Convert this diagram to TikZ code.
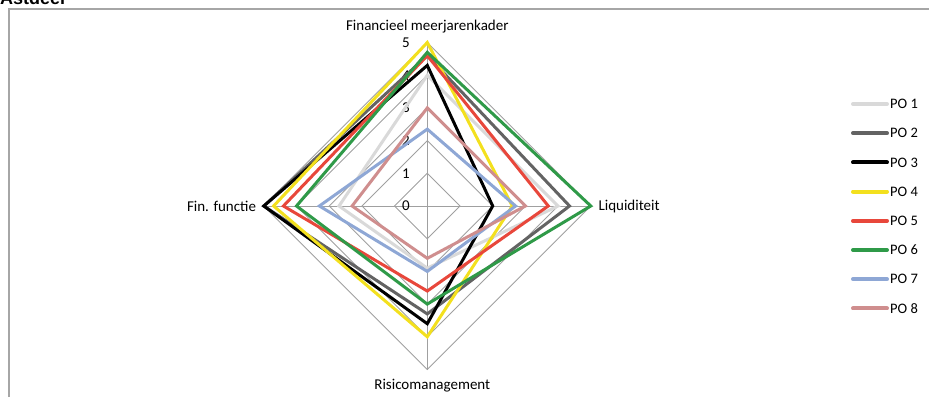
\documentclass[tikz,border=0pt]{standalone}
\usepackage{fontspec}
\setmainfont{Carlito}
\newfontfamily\titlefont{Liberation Sans}
\definecolor{gridgray}{HTML}{A0A0A0}
\definecolor{framegray}{HTML}{A6A6A6}
\definecolor{po1}{HTML}{D9D9D9}
\definecolor{po2}{HTML}{636363}
\definecolor{po3}{HTML}{000000}
\definecolor{po4}{HTML}{F3E01E}
\definecolor{po5}{HTML}{E8473B}
\definecolor{po6}{HTML}{2F9A48}
\definecolor{po7}{HTML}{8EA7D5}
\definecolor{po8}{HTML}{CF8E8E}
\tikzset{
  gridline/.style={draw=gridgray, line width=0.9pt},
  series/.style={line width=3pt, line join=miter},
  legendline/.style={line width=4pt, line cap=round},
  axislabel/.style={font=\fontsize{15}{18}\selectfont, inner sep=1pt},
  ticklabel/.style={font=\fontsize{15}{18}\selectfont, anchor=east, inner sep=1pt},
  legendtext/.style={font=\fontsize{14.5}{17}\selectfont, anchor=west, inner sep=1pt}
}
\begin{document}
\begin{tikzpicture}[x=1pt, y=-1pt]
  \useasboundingbox (0,0) rectangle (929,397);
  % frame and cut title
  \draw[framegray, line width=1.2pt] (9,397) -- (9,9) -- (929,9);
  \node[anchor=base west, inner sep=0pt, font=\titlefont\bfseries\fontsize{18}{20}\selectfont] (title) at (0,4) {Astdeel};
  % radar chart
  \begin{scope}[shift={(427.3pt,-206pt)}, x=32.7pt, y=32.7pt]
    \foreach \r in {1,...,5}
      \draw[gridline] (0,\r) -- (\r,0) -- (0,-\r) -- (-\r,0) -- cycle;
    \draw[gridline] (0,5) -- (0,-5) (-5,0) -- (5,0);
    \foreach \v in {0,...,5}
      \node[ticklabel] (tick\v) at (-0.5,\v) {\v};
    % top/right/bottom/left
    \foreach \t/\r/\b/\l/\c in {4/4/1.9/2.7/po1, 4.6/4.35/3.3/5/po2, 4.3/2/3.6/5/po3,
      5/2.6/4/4.7/po4, 4.6/3.7/2.6/4.4/po5, 4.7/5/3/4/po6,
      2.35/2.7/2/3.3/po7, 3/3/1.6/2.3/po8}
      \draw[series, \c] (0,\t) -- (\r,0) -- (0,-\b) -- (-\l,0) -- cycle;
    \node[axislabel, anchor=south] (fmk) at (0,5.25) {Financieel meerjarenkader};
    \node[axislabel, anchor=west] (liq) at (5.2,0) {Liquiditeit};
    \node[axislabel, anchor=north, xshift=5pt] (risico) at (0,-5.25) {Risicomanagement};
    \node[axislabel, anchor=east] (finf) at (-5.2,0) {Fin. functie};
  \end{scope}
  % legend
  \foreach \c [count=\i] in {po1,po2,po3,po4,po5,po6,po7,po8} {
    \pgfmathsetmacro{\ly}{104+(\i-1)*29.2}
    \coordinate (leg\i) at (853,\ly);
    \draw[legendline, \c] (leg\i) -- ++(34,0);
    \node[legendtext] (legtext\i) at (889,\ly) {PO \i};
  }
\end{tikzpicture}
\end{document}
